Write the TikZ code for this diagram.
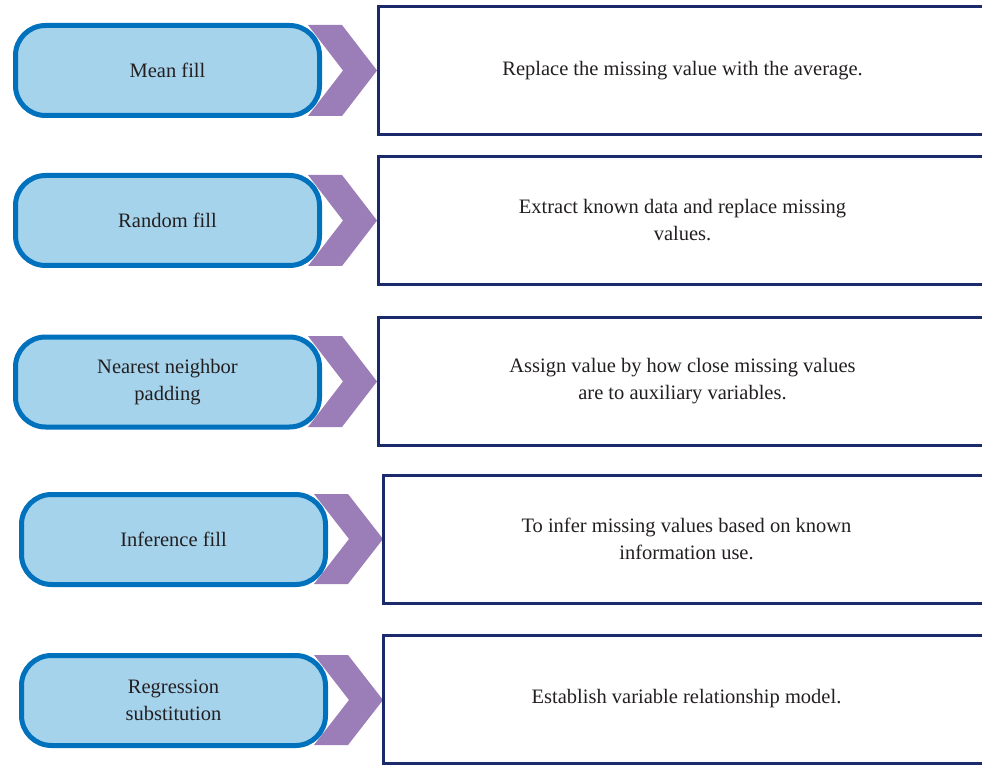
\documentclass[tikz,border=0pt]{standalone}
\usepackage{fontspec}
\setmainfont{Liberation Serif}
\definecolor{lbfill}{HTML}{A5D3EC}
\definecolor{lbdraw}{HTML}{0071BC}
\definecolor{chev}{HTML}{9B7DB8}
\definecolor{navy}{HTML}{1B2A6B}
\definecolor{txt}{HTML}{231F20}
\tikzset{
  leftbox/.style={draw=lbdraw, fill=lbfill, line width=5pt, rounded corners=30pt,
    minimum width=304pt, minimum height=90pt, inner sep=0pt, align=center,
    text=txt, font=\fontsize{20.5}{27}\selectfont},
  rightbox/.style={draw=navy, line width=3pt, fill=white,
    minimum height=128pt, inner sep=0pt, align=center,
    text=txt, font=\fontsize{20.5}{27}\selectfont},
  chevron/.style={fill=chev, draw=none}
}
\begin{document}
\begin{tikzpicture}[x=1pt,y=-1pt]
\clip (0,0) rectangle (982,767);
\fill[white] (0,0) rectangle (982,767);
% chevrons (drawn first, under the boxes)
\foreach \xl/\t/\m/\b in {308/25/70.5/116, 308/175/220.5/266, 308/336/381.5/427, 314/494/539/584, 314/655/700/745}{
  \fill[chevron] (\xl,\t) -- ({\xl+34},\t) -- ({\xl+69},\m) -- ({\xl+34},\b) -- (\xl,\b) -- ({\xl+35},\m) -- cycle;
}
% left boxes
\node[leftbox] (l1) at (167.5,70.5) {Mean fill};
\node[leftbox] (l2) at (167.5,220.5) {Random fill};
\node[leftbox] (l3) at (167.5,382) {Nearest neighbor\\padding};
\node[leftbox] (l4) at (173.5,539.5) {Inference fill};
\node[leftbox] (l5) at (173.5,700.5) {Regression\\substitution};
% right boxes
\node[rightbox, minimum width=608pt] (r1) at (682.5,70.5) {Replace the missing value with the average.};
\node[rightbox, minimum width=608pt] (r2) at (682.5,220.5) {Extract known data and replace missing\\values.};
\node[rightbox, minimum width=608pt] (r3) at (682.5,381.5) {Assign value by how close missing values\\are to auxiliary variables.};
\node[rightbox, minimum width=606pt] (r4) at (686.5,539) {To infer missing values based on known\\information use.};
\node[rightbox, minimum width=606pt] (r5) at (686.5,699) {Establish variable relationship model.};
\end{tikzpicture}
\end{document}
